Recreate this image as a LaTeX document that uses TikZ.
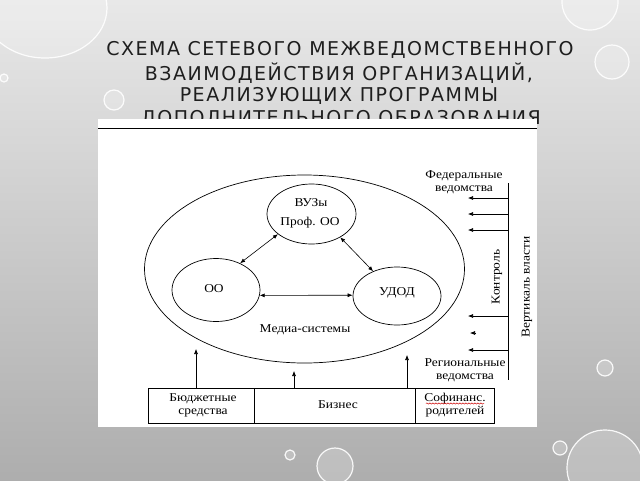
\documentclass[tikz,border=0pt]{standalone}
\usepackage{fontspec}
\setmainfont{Liberation Serif}
\newfontfamily\dfont[FakeStretch=1.12]{Liberation Serif}
\newfontfamily\titlefont[LetterSpace=8]{DejaVu Sans}
\usetikzlibrary{shapes.geometric,arrows.meta,decorations.pathmorphing}
\definecolor{titlegray}{HTML}{1E1E1E}
\tikzset{
  org/.style={draw, ellipse, line width=0.7pt, inner sep=0pt},
  lbl/.style={font=\dfont\fontsize{12}{13}\selectfont, align=center, inner sep=0pt},
  ttl/.style={font=\titlefont\fontsize{19}{20}\selectfont, text=titlegray, inner sep=0pt},
  dbl/.style={{Latex[length=5pt,width=4pt]}-{Latex[length=5pt,width=4pt]}, line width=0.6pt},
  one/.style={-{Latex[length=5pt,width=4pt]}, line width=0.6pt},
  cell/.style={draw, line width=1pt, minimum height=35pt, inner sep=0pt},
  drop/.style={draw=white, line width=1.2pt, fill=white, fill opacity=0.2, draw opacity=0.9}
}
\begin{document}
\begin{tikzpicture}[x=1pt,y=-1pt]
\useasboundingbox (0,0) rectangle (640,480);
% background
\shade[top color=black!9, middle color=black!2, bottom color=black!32] (0,0) rectangle (640,480);
% water drops
\draw[drop] (45,8) ellipse (62 and 50);
\draw[drop] (114,100) circle (10);
\draw[drop] (612,62) circle (17);
\draw[drop] (590,2) circle (28);
\draw[drop] (605,368) circle (8);
\draw[drop] (335,466) circle (18);
\draw[drop] (290,455) circle (5);
\draw[drop] (560,448) circle (7);
\draw[drop] (605,468) circle (38);
\draw[drop] (4,78) circle (4);
% title
\node[ttl] (t1) at (340,50) {СХЕМА СЕТЕВОГО МЕЖВЕДОМСТВЕННОГО};
\node[ttl] (t2) at (339,73) {ВЗАИМОДЕЙСТВИЯ ОРГАНИЗАЦИЙ,};
\node[ttl] (t3) at (339,96) {РЕАЛИЗУЮЩИХ ПРОГРАММЫ};
\node[ttl] (t4) at (341,119) {ДОПОЛНИТЕЛЬНОГО ОБРАЗОВАНИЯ};
% white picture area
\fill[white] (98,119) rectangle (537,427);
\coordinate (hl) at (98,128);
\coordinate (hr) at (537,128);
\draw[line width=0.8pt] (hl) -- (hr);
% ellipses
\node[org, minimum width=320pt, minimum height=188pt] (big) at (304.5,269) {};
\node[org, minimum width=89pt, minimum height=60pt] (vuz) at (311.5,214) {};
\node[org, minimum width=88pt, minimum height=63pt] (oo) at (216,290) {};
\node[org, minimum width=88pt, minimum height=58pt] (udod) at (397,296) {};
\node[lbl] (vuzA) at (311,203) {ВУЗы};
\node[lbl] (vuzB) at (310,223) {Проф. ОО};
\node[lbl] (ooT) at (214,289) {ОО};
\node[lbl] (udodT) at (397,293) {УДОД};
\node[lbl] (media) at (305,330) {Медиа-системы};
% arrows between organisations
\draw[dbl] (oo.48) -- (vuz.211);
\draw[dbl] (vuz.-39) -- (udod.134);
\draw[dbl] (oo.-7) -- (udod.179);
% table
\node[cell, minimum width=106pt] (c1) at (201,406) {};
\node[cell, minimum width=161pt] (c2) at (334.5,406) {};
\node[cell, minimum width=79pt] (c3) at (454.5,406) {};
\node[lbl] (c1t) at (203,405) {Бюджетные\\средства};
\node[lbl] (c2t) at (338,405) {Бизнес};
\node[lbl] (c3t) at (455,405) {Софинанс.\\родителей};
\draw[red!80!black, line width=0.5pt, decorate, decoration={snake, amplitude=0.6pt, segment length=3pt}] ([xshift=-29pt,yshift=1.5pt]c3t.center) -- ([xshift=29pt,yshift=1.5pt]c3t.center);
% upward arrows
\coordinate (u1s) at (196,388); \coordinate (u1e) at (196,349);
\coordinate (u2s) at (294,388); \coordinate (u2e) at (294,371);
\coordinate (u3s) at (407,388); \coordinate (u3e) at (407,355);
\draw[one] (u1s) -- (u1e);
\draw[one] (u2s) -- (u2e);
\draw[one] (u3s) -- (u3e);
% right side
\coordinate (vt) at (508,183); \coordinate (vb) at (508,380);
\draw[line width=0.6pt] (vt) -- (vb);
\foreach \i/\y in {1/198,2/214,3/230,4/316,6/350}{
  \coordinate (rs\i) at (508,\y); \coordinate (re\i) at (468,\y);
  \draw[one] (rs\i) -- (re\i);
}
\coordinate (rs5) at (476,333); \coordinate (re5) at (470,333);
\draw[one] (rs5) -- (re5);
\node[lbl] (fed) at (464,182) {Федеральные\\ведомства};
\node[lbl] (reg) at (465,370) {Региональные\\ведомства};
\node[lbl, rotate=90] (ctrl) at (497,277) {Контроль};
\node[lbl, rotate=90] (vert) at (527,287) {Вертикаль власти};
\end{tikzpicture}
\end{document}
